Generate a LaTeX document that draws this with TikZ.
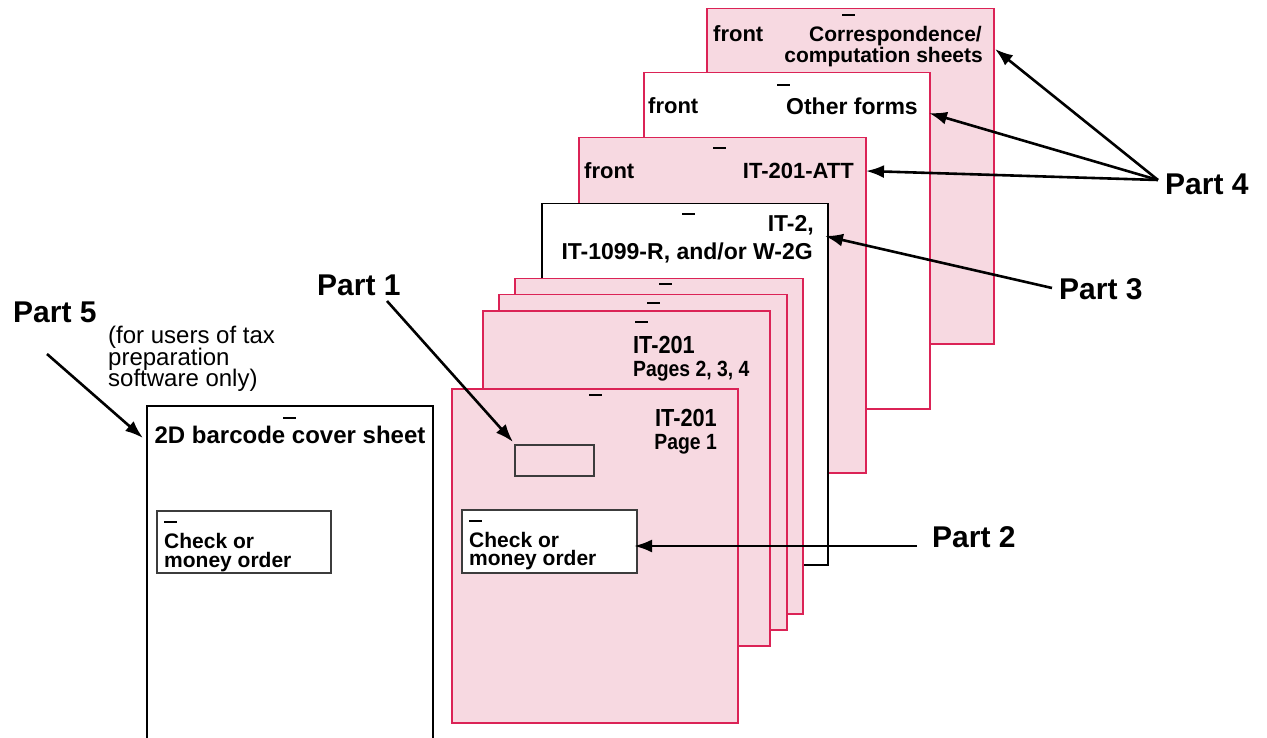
\documentclass[tikz,border=0pt]{standalone}
\usepackage{fontspec}
\setmainfont{Liberation Sans}
\newfontfamily\condfont[FakeStretch=0.88]{Liberation Sans}
\usetikzlibrary{arrows.meta}
\definecolor{pinkfill}{RGB}{247,217,225}
\definecolor{pinkline}{RGB}{219,35,86}
\definecolor{boxline}{RGB}{60,60,60}
\begin{document}
\begin{tikzpicture}[x=1pt,y=-1pt,
  pinksheet/.style={draw=pinkline,fill=pinkfill,line width=1.5pt,anchor=north west,inner sep=0pt},
  whitesheet/.style={draw=pinkline,fill=white,line width=1.5pt,anchor=north west,inner sep=0pt},
  blacksheet/.style={draw=black,fill=white,line width=1.5pt,anchor=north west,inner sep=0pt},
  smallbox/.style={draw=boxline,fill=white,line width=1.8pt,anchor=north west,inner sep=0pt},
  bar/.style={line width=2.6pt},
  lbl/.style={font=\bfseries\fontsize{22}{22}\selectfont,inner sep=0pt},
  condlbl/.style={font=\condfont\bfseries\fontsize{24.7}{24.7}\selectfont,inner sep=0pt},
  condsub/.style={font=\condfont\bfseries\fontsize{22}{22}\selectfont,inner sep=0pt},
  chk/.style={font=\bfseries\fontsize{21}{21}\selectfont,inner sep=0pt,anchor=base west,text height=15pt,text depth=3pt},
  part/.style={font=\bfseries\fontsize{30}{30}\selectfont,inner sep=0pt,anchor=base west},
  note/.style={font=\fontsize{24}{24}\selectfont,inner sep=0pt,anchor=base west,text height=17pt,text depth=4pt},
  arr/.style={line width=2.6pt,-{Latex[length=18pt,width=13pt]}}
]
\useasboundingbox (0,0) rectangle (1267,738);

% ---- sheets, back to front ----
\node[pinksheet,minimum width=287pt,minimum height=335pt] (corr) at (706,8) {};
\draw[bar] (842,15) -- (855,15);
\node[lbl,anchor=base west] (corrfront) at (713,42) {front};
\node[lbl,anchor=base east,font=\bfseries\fontsize{21}{21}\selectfont] (corrt1) at (982,42) {Correspondence/};
\node[lbl,anchor=base east,font=\bfseries\fontsize{21}{21}\selectfont] (corrt2) at (983,63) {computation sheets};

\node[whitesheet,minimum width=286pt,minimum height=336pt] (other) at (643,72) {};
\draw[bar] (777,85) -- (790,85);
\node[lbl,anchor=base west] (otherfront) at (648,114) {front};
\node[lbl,anchor=base east,font=\bfseries\fontsize{23}{23}\selectfont] (othert) at (918,115) {Other forms};

\node[pinksheet,minimum width=287pt,minimum height=335pt] (att) at (578,137) {};
\draw[bar] (713,148) -- (726,148);
\node[lbl,anchor=base west] (attfront) at (584,179) {front};
\node[lbl,anchor=base east] (attt) at (854,179) {IT-201-ATT};

\node[blacksheet,minimum width=286pt,minimum height=361pt] (ittwo) at (541,203) {};
\draw[bar] (682,214) -- (695,214);
\node[lbl,anchor=base east,font=\bfseries\fontsize{23}{23}\selectfont] (ittwot1) at (814,232) {IT-2,};
\node[lbl,anchor=base east,font=\bfseries\fontsize{23}{23}\selectfont] (ittwot2) at (813,260) {IT-1099-R, and/or W-2G};

\node[pinksheet,minimum width=288pt,minimum height=335pt] (sa) at (514,278) {};
\draw[bar] (659,284) -- (672,284);
\node[pinksheet,minimum width=288pt,minimum height=335pt] (sb) at (498,294) {};
\draw[bar] (647,303) -- (660,303);
\node[pinksheet,minimum width=287pt,minimum height=335pt] (sc) at (482,310) {};
\draw[bar] (635,322) -- (648,322);
\node[condlbl,anchor=base west] (sct1) at (633,353) {IT-201};
\node[condsub,anchor=base west] (sct2) at (633,376) {Pages 2, 3, 4};

\node[pinksheet,minimum width=286pt,minimum height=334pt] (front) at (451,388) {};
\draw[bar] (589,395) -- (602,395);
\node[condlbl,anchor=base east] (frontt1) at (717,426) {IT-201};
\node[condsub,anchor=base east] (frontt2) at (717,449) {Page 1};
\node[draw=boxline,line width=1.5pt,anchor=north west,inner sep=0pt,minimum width=79pt,minimum height=31pt] (idbox) at (514,444) {};
\node[smallbox,minimum width=175pt,minimum height=63pt] (frontchk) at (461,509) {};
\draw[bar] (469,521) -- (482,521);
\node[chk] (frontchk1) at (469,547) {Check or};
\node[chk] (frontchk2) at (469,565) {money order};

% ---- left sheet (open at the bottom) ----
\draw[line width=1.5pt] (147,740) -- (147,406) -- (433,406) -- (433,740);
\draw[bar] (283,418) -- (296,418);
\node[lbl,anchor=base,font=\bfseries\fontsize{24}{24}\selectfont] (leftt) at (290,443) {2D barcode cover sheet};
\node[smallbox,minimum width=174pt,minimum height=62pt] (leftchk) at (156,510) {};
\draw[bar] (164,522) -- (177,522);
\node[chk] (leftchk1) at (164,548) {Check or};
\node[chk] (leftchk2) at (164,567) {money order};

% ---- part labels ----
\node[part] (p1) at (317,295) {Part 1};
\node[part] (p5) at (13,323) {Part 5};
\node[note] (n1) at (108,343) {(for users of tax};
\node[note] (n2) at (108,365) {preparation};
\node[note] (n3) at (108,386) {software only)};
\node[part] (p4) at (1165,195) {Part 4};
\node[part] (p3) at (1059,300) {Part 3};
\node[part] (p2) at (932,547) {Part 2};

% ---- arrow ends ----
\coordinate (s1) at (387,301);
\coordinate (t1) at (513,442);
\coordinate (s5) at (47,354);
\coordinate (t5) at (143,438);
\coordinate (s2) at (917,546);
\coordinate (t2) at (634,546);
\coordinate (s3) at (1052,288);
\coordinate (t3) at (825,236);
\coordinate (s4) at (1158,180);
\coordinate (t4a) at (995,49);
\coordinate (t4b) at (929,113);
\coordinate (t4c) at (866,171);

\draw[arr] (s1) -- (t1);
\draw[arr] (s5) -- (t5);
\draw[arr] (s2) -- (t2);
\draw[arr] (s3) -- (t3);
\draw[arr] (s4) -- (t4a);
\draw[arr] (s4) -- (t4b);
\draw[arr] (s4) -- (t4c);
\end{tikzpicture}
\end{document}
